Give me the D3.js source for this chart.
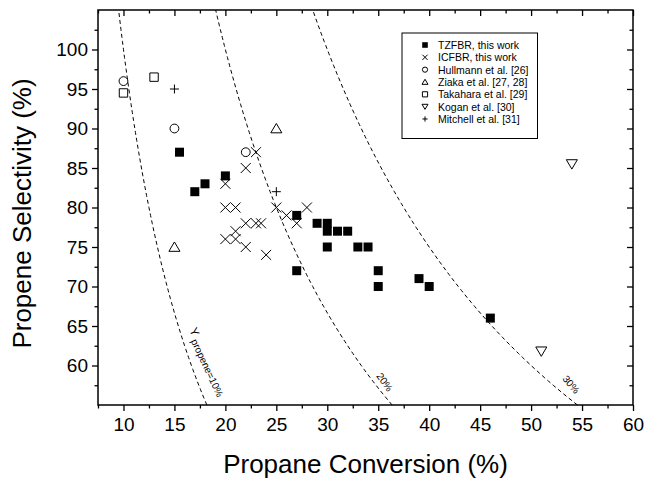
<!DOCTYPE html>
<html>
<head>
<meta charset="utf-8">
<script src="https://cdn.jsdelivr.net/npm/d3@7"></script>
<style>
  body { margin: 0; background: #fff; }
  text { font-family: Arial, "Liberation Sans", sans-serif; fill: #000; }
</style>
</head>
<body>
<script>
// data
const tzfbrX = [15.5, 17, 18, 20, 27, 29, 30, 30, 31, 32, 30, 33, 34, 27, 35, 35, 39, 40, 46];
const tzfbrY = [87, 82, 83, 84, 79, 78, 78, 77, 77, 77, 75, 75, 75, 72, 72, 70, 71, 70, 66];

const icfbrX = [20, 20, 21, 22, 23, 22, 23, 23.5, 21, 20, 21, 22, 24, 25, 26, 27, 28];
const icfbrY = [83, 80, 80, 85, 87, 78, 78, 78, 77, 76, 76, 75, 74, 80, 79, 78, 80];

const hullmannX = [10, 15, 22];
const hullmannY = [96, 90, 87];

const ziakaX = [25, 15];
const ziakaY = [90, 75];

const takaharaX = [10, 13];
const takaharaY = [94.5, 96.5];

const koganX = [54, 51];
const koganY = [85.5, 61.8];

const mitchellX = [15, 25];
const mitchellY = [95, 82];

const yieldLevels = [10, 20, 30];   // iso-yield lines, % propene yield
const xTicks = [10, 15, 20, 25, 30, 35, 40, 45, 50, 55, 60];
const yTicks = [60, 65, 70, 75, 80, 85, 90, 95, 100];

const legendNames = [
  "TZFBR, this work",
  "ICFBR, this work",
  "Hullmann et al. [26]",
  "Ziaka et al. [27, 28]",
  "Takahara et al. [29]",
  "Kogan et al. [30]",
  "Mitchell et al. [31]"
];
const legendKinds = ["square", "x", "circle", "triangle", "openSquare", "downTriangle", "plus"];

// svg setup
const width = 659;
const height = 481;
const margin = { top: 10, right: 26, bottom: 76, left: 98 };

const svg = d3.select("body")
  .append("svg")
  .attr("width", width)
  .attr("height", height);

const x = d3.scaleLinear()
  .domain([7.5, 60])
  .range([margin.left, width - margin.right]);

const y = d3.scaleLinear()
  .domain([55, 105])
  .range([height - margin.bottom, margin.top]);

// marker shapes, s = half size
function markerPath(kind, s) {
  const p = d3.path();
  if (kind === "square" || kind === "openSquare") {
    p.rect(-s, -s, 2 * s, 2 * s);
  } else if (kind === "x") {
    p.moveTo(-s, -s); p.lineTo(s, s);
    p.moveTo(-s, s); p.lineTo(s, -s);
  } else if (kind === "plus") {
    p.moveTo(-s, 0); p.lineTo(s, 0);
    p.moveTo(0, -s); p.lineTo(0, s);
  } else if (kind === "circle") {
    p.arc(0, 0, s, 0, 2 * Math.PI);
  } else if (kind === "triangle") {
    p.moveTo(0, -s * 1.05); p.lineTo(s * 1.15, s * 0.9); p.lineTo(-s * 1.15, s * 0.9); p.closePath();
  } else if (kind === "downTriangle") {
    p.moveTo(0, s * 1.05); p.lineTo(s * 1.15, -s * 0.9); p.lineTo(-s * 1.15, -s * 0.9); p.closePath();
  }
  return p.toString();
}

function drawMarker(g, kind, s) {
  g.append("path")
    .attr("d", markerPath(kind, s))
    .attr("fill", kind === "square" ? "#000" : "none")
    .attr("stroke", "#000")
    .attr("stroke-width", kind === "square" ? 0 : 1);
}

// iso-yield dashed lines: selectivity = 100 * Y / conversion
const curveLine = d3.line()
  .x(d => x(d[0]))
  .y(d => y(d[1]));

yieldLevels.forEach(level => {
  const pts = d3.range(55, 105.01, 0.5).map(s => [100 * level / s, s]);
  svg.append("path")
    .attr("d", curveLine(pts))
    .attr("fill", "none")
    .attr("stroke", "#000")
    .attr("stroke-width", 1)
    .attr("stroke-dasharray", "4,3");
});

// curve labels
const lab10 = svg.append("text")
  .attr("transform", "translate(189,330) rotate(65)")
  .style("font-size", "12px");
lab10.append("tspan").text("Y");
lab10.append("tspan").attr("dy", 3).style("font-size", "10px").text(" propene=10%");

svg.append("text")
  .attr("transform", "translate(376,376) rotate(55)")
  .style("font-size", "10px")
  .text("20%");

svg.append("text")
  .attr("transform", "translate(562,379) rotate(50)")
  .style("font-size", "10px")
  .text("30%");

// axes
const minorX = d3.range(7.5, 60.01, 5);
const minorY = d3.range(57.5, 105, 5);

function styleAxis(g) {
  g.select(".domain").remove();
  g.selectAll(".tick line").attr("stroke", "#000").attr("stroke-width", 1.3);
  g.selectAll(".tick text").style("font-size", "19px").attr("fill", "#000");
}

// bottom
svg.append("g")
  .attr("transform", `translate(0, ${height - margin.bottom})`)
  .call(d3.axisBottom(x).tickValues(xTicks).tickSize(6).tickPadding(7).tickFormat(d3.format("d")))
  .call(styleAxis);
svg.append("g")
  .attr("transform", `translate(0, ${height - margin.bottom})`)
  .call(d3.axisBottom(x).tickValues(minorX).tickSize(3.5).tickFormat(""))
  .call(styleAxis);

// top (inward)
svg.append("g")
  .attr("transform", `translate(0, ${margin.top})`)
  .call(d3.axisBottom(x).tickValues(xTicks).tickSize(6).tickFormat(""))
  .call(styleAxis);
svg.append("g")
  .attr("transform", `translate(0, ${margin.top})`)
  .call(d3.axisBottom(x).tickValues(minorX).tickSize(3.5).tickFormat(""))
  .call(styleAxis);

// left
svg.append("g")
  .attr("transform", `translate(${margin.left}, 0)`)
  .call(d3.axisLeft(y).tickValues(yTicks).tickSize(6).tickPadding(4).tickFormat(d3.format("d")))
  .call(styleAxis);
svg.append("g")
  .attr("transform", `translate(${margin.left}, 0)`)
  .call(d3.axisLeft(y).tickValues(minorY).tickSize(3.5).tickFormat(""))
  .call(styleAxis);

// right (inward)
svg.append("g")
  .attr("transform", `translate(${width - margin.right}, 0)`)
  .call(d3.axisLeft(y).tickValues(yTicks).tickSize(6).tickFormat(""))
  .call(styleAxis);
svg.append("g")
  .attr("transform", `translate(${width - margin.right}, 0)`)
  .call(d3.axisLeft(y).tickValues(minorY).tickSize(3.5).tickFormat(""))
  .call(styleAxis);

// frame
svg.append("rect")
  .attr("x", margin.left)
  .attr("y", margin.top)
  .attr("width", width - margin.left - margin.right)
  .attr("height", height - margin.top - margin.bottom)
  .attr("fill", "none")
  .attr("stroke", "#000")
  .attr("stroke-width", 1.5);

// axis titles
svg.append("text")
  .attr("x", (margin.left + width - margin.right) / 2)
  .attr("y", 473)
  .attr("text-anchor", "middle")
  .style("font-size", "26px")
  .text("Propane Conversion (%)");

svg.append("text")
  .attr("transform", `translate(31, ${(margin.top + height - margin.bottom) / 2 + 6}) rotate(-90)`)
  .attr("text-anchor", "middle")
  .style("font-size", "26px")
  .text("Propene Selectivity (%)");

// points
const series = [
  { xs: tzfbrX, ys: tzfbrY, kind: "square", s: 4.5 },
  { xs: icfbrX, ys: icfbrY, kind: "x", s: 5 },
  { xs: hullmannX, ys: hullmannY, kind: "circle", s: 4.4 },
  { xs: ziakaX, ys: ziakaY, kind: "triangle", s: 4.8 },
  { xs: takaharaX, ys: takaharaY, kind: "openSquare", s: 4.2 },
  { xs: koganX, ys: koganY, kind: "downTriangle", s: 4.8 },
  { xs: mitchellX, ys: mitchellY, kind: "plus", s: 4.5 }
];

series.forEach(sr => {
  const data = sr.xs.map((v, i) => [v, sr.ys[i]]);
  svg.append("g")
    .selectAll("g")
    .data(data)
    .enter()
    .append("g")
    .attr("transform", d => `translate(${x(d[0])}, ${y(d[1])})`)
    .each(function () { drawMarker(d3.select(this), sr.kind, sr.s); });
});

// legend
const legend = svg.append("g");
legend.append("rect")
  .attr("x", 402)
  .attr("y", 33)
  .attr("width", 135.5)
  .attr("height", 105.5)
  .attr("fill", "#fff")
  .attr("stroke", "#000")
  .attr("stroke-width", 1);

legendNames.forEach((name, i) => {
  const ly = 45 + i * 12.33;
  const g = legend.append("g").attr("transform", `translate(425, ${ly})`);
  drawMarker(g, legendKinds[i], legendKinds[i] === "square" ? 2.8 : 2.6);
  legend.append("text")
    .attr("x", 438)
    .attr("y", ly + 4)
    .style("font-size", "10.5px")
    .text(name);
});
</script>
</body>
</html>
